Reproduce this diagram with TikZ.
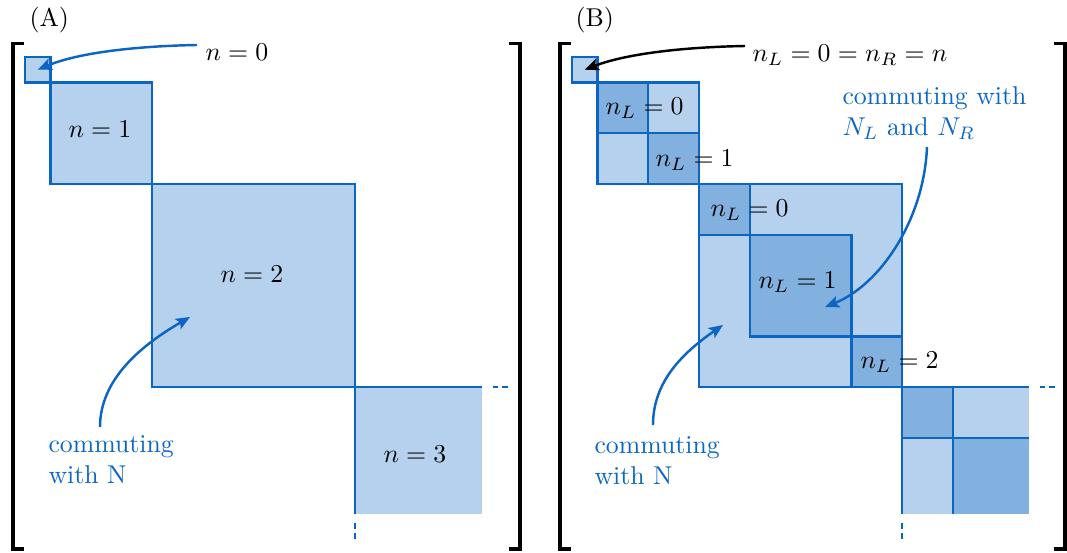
\documentclass[tikz,border=0pt]{standalone}
\usetikzlibrary{arrows.meta}
\definecolor{mblue}{RGB}{10,102,194}
\colorlet{lightfill}{mblue!30!white}
\colorlet{darkfill}{mblue!51!white}
\begin{document}
\begin{tikzpicture}[x=0.388pt,y=-0.388pt,
  blk/.style={fill=lightfill,draw=mblue,line width=0.95pt},
  dblk/.style={fill=darkfill,draw=mblue,line width=0.95pt},
  edge/.style={draw=mblue,line width=0.95pt},
  dashedge/.style={draw=mblue,line width=0.95pt,dash pattern=on 2.3pt off 1.5pt},
  brk/.style={draw=black,line width=1.35pt},
  lbl/.style={inner sep=0pt,anchor=base west},
  note/.style={inner sep=0pt,anchor=base west,text=mblue},
  arr/.style={line width=0.95pt,-{Stealth[length=5.5pt,width=4.6pt,inset=1.2pt]}}
]
\useasboundingbox (0,0) rectangle (1067,553);
% ---------------- Panel A ----------------
\node[lbl] (labA) at (29,27) {(A)};
\draw[brk] (24,43.5) -- (13,43.5) -- (13,549) -- (24,549);
\draw[brk] (509,43.5) -- (520,43.5) -- (520,549) -- (509,549);
\path[blk] (25,57) rectangle (50.4,82.4);
\path[blk] (50.4,82.4) rectangle (152,184);
\path[blk] (152,184) rectangle (355.2,387.2);
\fill[lightfill] (355.2,387.2) rectangle (482.2,514.2);
\draw[edge] (482.2,387.2) -- (355.2,387.2) -- (355.2,514.2);
\draw[dashedge] (492.5,387.2) -- (508.5,387.2);
\draw[dashedge] (355.2,523) -- (355.2,539.5);
\node[lbl] (lA0) at (205,61) {$n=0$};
\node[lbl] (lA1) at (68,138) {$n=1$};
\node[lbl] (lA2) at (220,283) {$n=2$};
\node[lbl] (lA3) at (383,463) {$n=3$};
\coordinate (aA0s) at (197,45);
\coordinate (aA0e) at (37.7,69.7);
\draw[arr,mblue] (aA0s) .. controls (140,46) and (80,52) .. (aA0e);
\node[note] (cA) at (48,453) {\begin{tabular}[t]{@{}l@{}}commuting\\with N\end{tabular}};
\coordinate (cAs) at (100,427);
\coordinate (cAe) at (190,317);
\draw[arr,mblue] (cAs) .. controls (100,380) and (140,346) .. (cAe);
% ---------------- Panel B ----------------
\node[lbl] (labB) at (575,27) {(B)};
\draw[brk] (571,43.5) -- (560,43.5) -- (560,549) -- (571,549);
\draw[brk] (1054,43.5) -- (1065,43.5) -- (1065,549) -- (1054,549);
\path[blk] (572,57) rectangle (597.4,82.4);
\path[blk] (597.4,82.4) rectangle (699,184);
\path[dblk] (597.4,82.4) rectangle (648.2,133.2);
\path[dblk] (648.2,133.2) rectangle (699,184);
\path[blk] (699,184) rectangle (902.2,387.2);
\path[dblk] (699,184) rectangle (749.8,234.8);
\path[dblk] (749.8,234.8) rectangle (851.4,336.4);
\path[dblk] (851.4,336.4) rectangle (902.2,387.2);
\fill[lightfill] (902.2,387.2) rectangle (1029.2,514.2);
\fill[darkfill] (902.2,387.2) rectangle (953,438);
\fill[darkfill] (953,438) rectangle (1029.2,514.2);
\draw[edge] (1029.2,387.2) -- (902.2,387.2) -- (902.2,514.2);
\draw[edge] (953,387.2) -- (953,514.2);
\draw[edge] (902.2,438) -- (1029.2,438);
\draw[dashedge] (1039.5,387.2) -- (1055.5,387.2);
\draw[dashedge] (902.2,523) -- (902.2,539.5);
\node[lbl] (lB0) at (752,62) {$n_L=0=n_R=n$};
\node[lbl] (lB10) at (605,115) {$n_L=0$};
\node[lbl] (lB11) at (655,167) {$n_L=1$};
\node[lbl] (lB20) at (710,217) {$n_L=0$};
\node[lbl] (lB21) at (758,289) {$n_L=1$};
\node[lbl] (lB22) at (860,369) {$n_L=2$};
\coordinate (aB0s) at (745,46);
\coordinate (aB0e) at (584.7,69.7);
\draw[arr,black] (aB0s) .. controls (688,47) and (628,53) .. (aB0e);
\node[note] (cB) at (594,454) {\begin{tabular}[t]{@{}l@{}}commuting\\with N\end{tabular}};
\coordinate (cBs) at (653,425);
\coordinate (cBe) at (723,325);
\draw[arr,mblue] (cBs) .. controls (653,385) and (678,356) .. (cBe);
\node[note] (cLR) at (842,105) {\begin{tabular}[t]{@{}l@{}}commuting with\\$N_L$ and $N_R$\end{tabular}};
\coordinate (cLRs) at (927,147);
\coordinate (cLRe) at (825,307);
\draw[arr,mblue] (cLRs) .. controls (924,220) and (880,285) .. (cLRe);
\end{tikzpicture}
\end{document}
